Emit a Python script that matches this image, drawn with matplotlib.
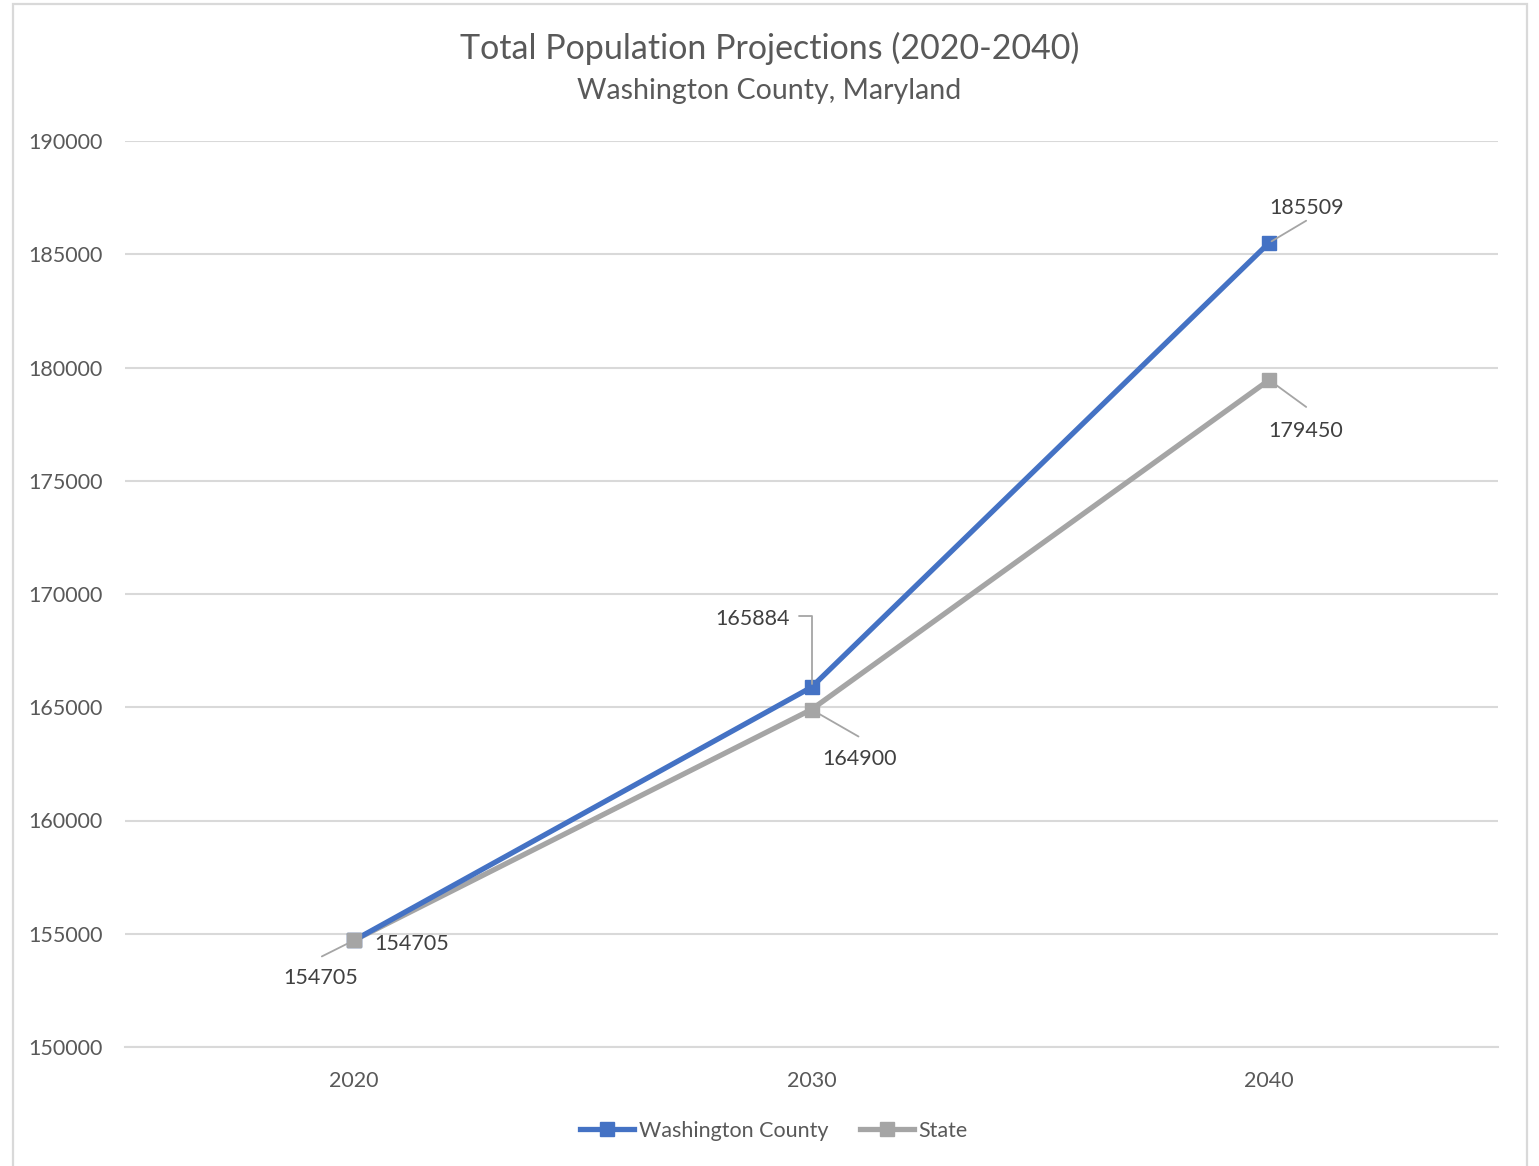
import matplotlib.pyplot as plt
from matplotlib.patches import Rectangle

plt.rcParams['font.family'] = ['Lato', 'DejaVu Sans']

years = ['2020', '2030', '2040']
washington = [154705, 165884, 185509]
state = [154705, 164900, 179450]

blue = '#4472C4'
gray = '#A5A5A5'
txt = '#595959'
lbl = '#404040'
grid = '#D9D9D9'
fs = 15.5

fig = plt.figure(figsize=(15.39, 11.66), dpi=100)
ax = fig.add_axes([125 / 1539, 1 - 1047 / 1166, (1498 - 125) / 1539, (1047 - 141) / 1166])

# outer chart border
fig.patches.append(Rectangle((13 / 1539, -0.01), (1527 - 13) / 1539, 1 - 4 / 1166 + 0.01,
                             transform=fig.transFigure, fill=False, edgecolor=grid, linewidth=1.6))

x = range(len(years))
ax.plot(x, state, color=gray, linewidth=3.8, marker='s', markersize=10, label='State', zorder=3)
ax.plot(x, washington, color=blue, linewidth=3.8, marker='s', markersize=10,
        label='Washington County', zorder=4)
# state marker at 2020 sits on top of the blue one
ax.plot([0], [state[0]], color=gray, marker='s', markersize=10, linestyle='none', zorder=5)

ax.set_xlim(-0.5, 2.5)
ax.set_ylim(150000, 190000)
ax.set_yticks(range(150000, 190001, 5000))
ax.set_xticks(list(x))
ax.set_xticklabels(years)
ax.grid(axis='y', color=grid, linewidth=1.5)
ax.set_axisbelow(True)
for s in ['top', 'right', 'left']:
    ax.spines[s].set_visible(False)
ax.spines['bottom'].set_color(grid)
ax.spines['bottom'].set_linewidth(1.5)
ax.tick_params(axis='both', length=0, labelsize=fs, labelcolor=txt)
ax.tick_params(axis='y', pad=16)
ax.tick_params(axis='x', pad=17)


def label(i, val, dx, dy, leader=None, elbow=False):
    ax.annotate(str(val), xy=(i, val), xytext=(dx, dy), textcoords='offset pixels',
                ha='center', va='center', fontsize=fs, color=lbl, zorder=6)
    if leader is not None:
        cs = 'angle,angleA=0,angleB=90,rad=0' if elbow else 'arc3'
        ax.annotate('', xy=(i, val), xytext=leader, textcoords='offset pixels',
                    arrowprops=dict(arrowstyle='-', color=gray, linewidth=1.3,
                                    connectionstyle=cs, shrinkA=0, shrinkB=2), zorder=6)


label(2, washington[2], 37, 35, leader=(37, 22))
label(2, state[2], 37, -51, leader=(37, -27))
label(1, washington[1], -59, 68, leader=(-13, 71), elbow=True)
label(1, state[1], 48, -49, leader=(47, -27))
label(0, washington[0], 58, -4)
label(0, state[0], -33, -38, leader=(-32, -16))

fig.text(0.5, 1 - 48 / 1166, 'Total Population Projections (2020-2040)', ha='center', va='center',
         fontsize=24.5, color=txt)
fig.text(0.5, 1 - 91 / 1166, 'Washington County, Maryland', ha='center', va='center',
         fontsize=20.5, color=txt)

h, l = ax.get_legend_handles_labels()
fig.legend([h[1], h[0]], [l[1], l[0]], loc='center', bbox_to_anchor=(0.503, 1 - 1131 / 1166),
           ncol=2, frameon=False, fontsize=fs, labelcolor=txt, handlelength=2.5,
           handletextpad=0.2, columnspacing=1.5)

fig.savefig('out.png', dpi=100, facecolor='white')
